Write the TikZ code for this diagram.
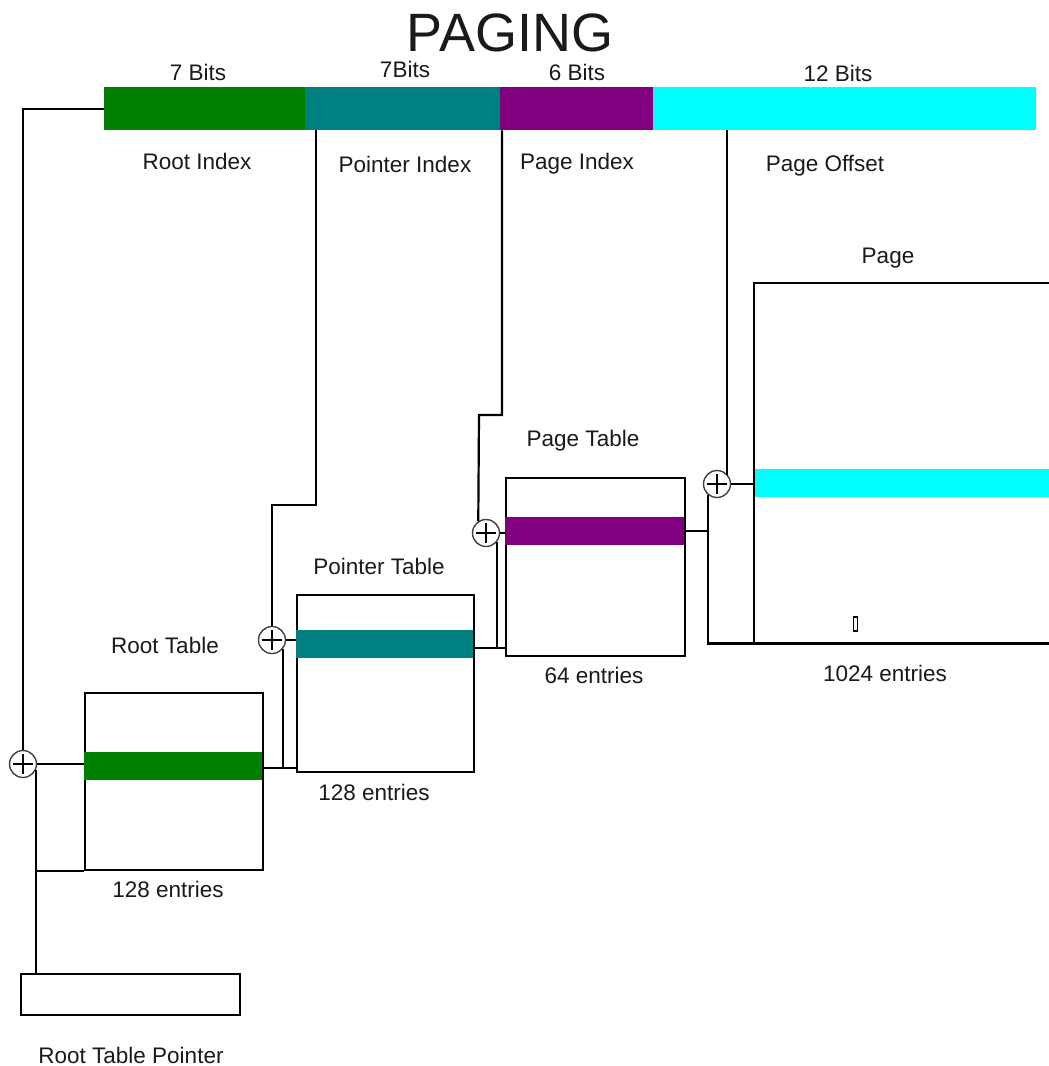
\documentclass[tikz,border=0pt]{standalone}
\usepackage{fontspec}
\setmainfont{Liberation Sans}
\usetikzlibrary{positioning,calc}
\definecolor{rootCol}{HTML}{008000}
\definecolor{ptrCol}{HTML}{008080}
\definecolor{pgCol}{HTML}{800080}
\definecolor{offCol}{HTML}{00FFFF}
\definecolor{txtCol}{HTML}{1A1A1A}
\tikzset{
  field/.style n args={2}{fill=#1, minimum width=#2, minimum height=43pt, inner sep=0pt, anchor=north west},
  tbl/.style n args={2}{draw, line width=2.2pt, minimum width=#1, minimum height=#2, inner sep=0pt, anchor=north west},
  band/.style n args={2}{fill=#1, minimum width=#2, minimum height=28pt, inner sep=0pt, anchor=north west},
  adder/.style={draw=black!75, circle, line width=1.4pt, minimum size=27pt, inner sep=0pt,
        path picture={\draw[line width=1.8pt, black]
          ([xshift=-10pt]path picture bounding box.center) -- ([xshift=10pt]path picture bounding box.center)
          ([yshift=-10pt]path picture bounding box.center) -- ([yshift=10pt]path picture bounding box.center);}},
  lbl/.style={font=\fontsize{22.5}{26}\selectfont, text=txtCol, inner sep=0pt},
  wire/.style={line width=2.2pt},
}

\begin{document}
\begin{tikzpicture}[x=1pt,y=-1pt]
  \useasboundingbox[fill=white] (0,0) rectangle (1049,1066);
  % virtual address
  \node[lbl, font=\fontsize{54}{60}\selectfont] (title) at (510,33) {PAGING};
  \node[field={rootCol}{201pt}] (fRoot) at (104,87) {};
  \node[field={ptrCol}{195pt}] (fPtr) at (305,87) {};
  \node[field={pgCol}{153pt}] (fPg) at (500,87) {};
  \node[field={offCol}{383pt}] (fOff) at (653,87) {};
  \node[lbl] (bRoot) at (198,72) {7 Bits};
  \node[lbl] (bPtr) at (405,69) {7Bits};
  \node[lbl] (bPg) at (577,72) {6 Bits};
  \node[lbl] (bOff) at (838,73) {12 Bits};
  \node[lbl] (nRoot) at (197,161) {Root Index};
  \node[lbl] (nPtr) at (405,164) {Pointer Index};
  \node[lbl] (nPg) at (577,164) {Page Index};
  \node[lbl] (nOff) at (825,166) {Page Offset};
  % tables
  \node[tbl={178pt}{177pt}] (tblRoot) at (84,692) {};
  \node[band={rootCol}{178pt}] (bandRoot) at (84,752) {};
  \node[tbl={177pt}{177pt}] (tblPtr) at (296,594) {};
  \node[band={ptrCol}{177pt}] (bandPtr) at (296,630) {};
  \node[tbl={179pt}{178pt}] (tblPg) at (505,477) {};
  \node[band={pgCol}{179pt}] (bandPg) at (505,517) {};
  \node[anchor=north west, minimum width=300pt, minimum height=360pt, inner sep=0pt] (page) at (754,283) {};
  \node[band={offCol}{300pt}] (bandOff) at (754,469) {};
  \node[draw, line width=1.2pt, minimum width=4pt, minimum height=14pt, inner sep=0pt] (pgEntry) at (855.5,624) {};
  \node[tbl={219pt}{41pt}] (rtp) at (20,973) {};
  \node[lbl] (lRoot) at (165,645) {Root Table};
  \node[lbl] (lPtr) at (379,566) {Pointer Table};
  \node[lbl] (lPg) at (583,441) {Page Table};
  \node[lbl] (lPage) at (888,258) {Page};
  \node[lbl] (eRoot) at (168,889) {128 entries};
  \node[lbl] (ePtr) at (374,792) {128 entries};
  \node[lbl] (ePg) at (594,675) {64 entries};
  \node[lbl] (ePage) at (885,673) {1024 entries};
  \node[lbl] (lRtp) at (131,1055) {Root Table Pointer};
  % adders
  \node[adder] (addRoot) at (23,764) {};
  \node[adder] (addPtr) at (272,640) {};
  \node[adder] (addPg) at (486,533) {};
  \node[adder] (addOff) at (717,484) {};
  % taps and kinks
  \coordinate (tapPtr) at ([xshift=11pt]fPtr.south west);
  \coordinate (tapPg) at ([xshift=2pt]fPg.south west);
  \coordinate (tapOff) at ([xshift=74pt]fOff.south west);
  \coordinate (kinkPtr) at (272,505);
  \coordinate (kinkPg) at (479,415);
  \coordinate (outRoot) at ([yshift=-2pt]bandRoot.east);
  \coordinate (outPtr) at ([yshift=-4pt]bandPtr.east);
  % connectors
  \draw[wire] (page.north east) -- (page.north west) -- (page.south west) -- (page.south east);
  \draw[wire] (fRoot.west) -| (addRoot.north);
  \draw[wire] (addRoot.east) -- (addRoot.east -| bandRoot.west);
  \draw[wire] (addRoot.-25) -- (addRoot.-25 |- rtp.north);
  \draw[wire] (addRoot.-25 |- tblRoot.south) -- (tblRoot.south west);
  \draw[wire] (tapPtr) |- (kinkPtr) -- (addPtr.north);
  \draw[wire] (addPtr.east) -- (addPtr.east -| tblPtr.west);
  \draw[wire] (outRoot) -- (outRoot -| tblPtr.west);
  \draw[wire] (addPtr.-40) -- (addPtr.-40 |- outRoot);
  \draw[wire] (tapPg) |- (kinkPg) -- (addPg.123);
  \draw[wire] (addPg.east) -- (addPg.east -| tblPg.west);
  \draw[wire] (outPtr) -- (outPtr -| tblPg.west);
  \draw[wire] (addPg.-40) -- (addPg.-40 |- outPtr);
  \draw[wire] (tapOff) -- (tapOff |- addOff.40);
  \draw[wire] (addOff.east) -- (addOff.east -| page.west);
  \draw[wire] (bandPg.east) -- (bandPg.east -| addOff.-128);
  \draw[wire] (addOff.-128) |- (page.south west);
\end{tikzpicture}
\end{document}
